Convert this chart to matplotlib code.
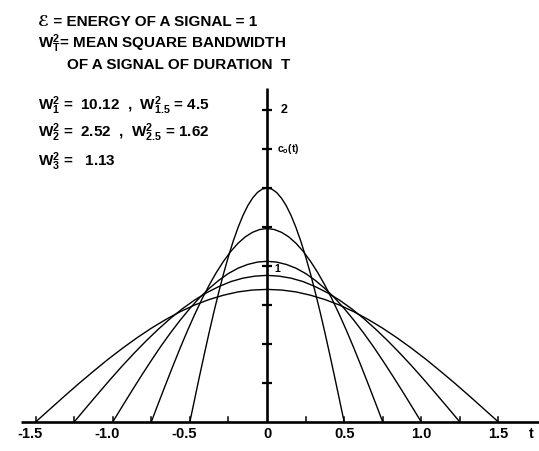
import matplotlib

matplotlib.use("Agg")

import matplotlib.pyplot as plt
import numpy as np

W_PX, H_PX, DPI = 539, 451, 100

# signal durations T and the c0(t) values, from t = 0
# out to t = T/2 in 16 equal steps (curves are symmetric about t = 0)
durations = [1.0, 1.5, 2.0, 2.5, 3.0]
curve_values = {
    1.0: [1.50, 1.493, 1.471, 1.435, 1.386, 1.323, 1.247, 1.160, 1.061,
          0.952, 0.833, 0.707, 0.574, 0.435, 0.293, 0.147, 0.0],
    1.5: [1.24, 1.234, 1.216, 1.187, 1.146, 1.094, 1.031, 0.959, 0.877,
          0.787, 0.689, 0.585, 0.475, 0.360, 0.242, 0.122, 0.0],
    2.0: [1.03, 1.025, 1.010, 0.986, 0.952, 0.908, 0.856, 0.796, 0.728,
          0.653, 0.572, 0.486, 0.394, 0.299, 0.201, 0.101, 0.0],
    2.5: [0.94, 0.935, 0.922, 0.900, 0.868, 0.829, 0.782, 0.727, 0.665,
          0.596, 0.522, 0.443, 0.360, 0.273, 0.183, 0.092, 0.0],
    3.0: [0.85, 0.846, 0.834, 0.813, 0.785, 0.750, 0.707, 0.657, 0.601,
          0.539, 0.472, 0.401, 0.325, 0.247, 0.166, 0.083, 0.0],
}

x_ticks = [-1.5, -1.25, -1.0, -0.75, -0.5, -0.25, 0.25, 0.5, 0.75, 1.0, 1.25, 1.5]
x_labels = {-1.5: "-1.5", -1.0: "-1.0", -0.5: "-0.5", 0.0: "0", 0.5: "0.5", 1.0: "1.0", 1.5: "1.5"}
y_ticks = [0.25, 0.5, 0.75, 1.0, 1.25, 1.5, 1.75, 2.0]

header_lines = [
    (38, 22, "\u2130 = ENERGY OF A SIGNAL = 1"),
    (38, 43.5, "W$_T^2$= MEAN SQUARE BANDWIDTH"),
    (67, 65, "OF A SIGNAL OF DURATION  T"),
]
bandwidth_lines = [
    (38, 106, "W$_1^2$ =  10.12  ,  W$_{1.5}^2$ = 4.5"),
    (38, 133, "W$_2^2$ =  2.52  ,  W$_{2.5}^2$ = 1.62"),
    (38, 162, "W$_3^2$ =   1.13"),
]

plt.rcParams["font.family"] = ["Liberation Sans", "DejaVu Sans"]
plt.rcParams["font.weight"] = "bold"
plt.rcParams["mathtext.fontset"] = "custom"
plt.rcParams["mathtext.rm"] = "Liberation Sans:bold"
plt.rcParams["mathtext.it"] = "Liberation Sans:bold"
plt.rcParams["mathtext.bf"] = "Liberation Sans:bold"
plt.rcParams["mathtext.default"] = "regular"

fig = plt.figure(figsize=(W_PX / DPI, H_PX / DPI), dpi=DPI)
ax = fig.add_axes([0, 0, 1, 1])
ax.set_axis_off()

# pixel geometry of the original drawing
x0_px, x_scale = 267.0, 154.3
y0_px, y_scale = 422.0, 156.0
ax.set_xlim(-x0_px / x_scale, (W_PX - x0_px) / x_scale)
ax.set_ylim((y0_px - H_PX) / y_scale, y0_px / y_scale)


def px(x, y):
    return x / W_PX, 1 - y / H_PX


# axes
ax.plot([(21 - x0_px) / x_scale, (W_PX - x0_px) / x_scale], [0, 0], color="black", lw=1.9,
        solid_capstyle="butt")
ax.plot([0, 0], [0, (y0_px - 88) / y_scale], color="black", lw=1.9, solid_capstyle="butt")

# x ticks (short upward marks)
for t in x_ticks:
    ax.plot([t, t], [0, 0.035], color="black", lw=1.1)
for t, lab in x_labels.items():
    ax.text(t - (0.035 if t < 0 else 0), -0.075, lab, ha="center", va="center", fontsize=10.5)
ax.text((531 - x0_px) / x_scale, -0.075, "t", ha="center", va="center", fontsize=10.5)

# y ticks (small crosses on the axis)
ax.plot(np.zeros(len(y_ticks)), y_ticks, ls="none", marker="_", ms=7, mew=1.6, color="black")
ax.text(0.09, 2.0, "2", ha="left", va="center", fontsize=9)
ax.text(0.065, 1.75, "c$_o$(t)", ha="left", va="center", fontsize=7.5)
ax.text(0.045, 0.98, "1", ha="left", va="center", fontsize=7.5)

# curves
for T in durations:
    vals = np.array(curve_values[T])
    t_half = np.linspace(0, T / 2, len(vals))
    t = np.concatenate([-t_half[::-1], t_half[1:]])
    c = np.concatenate([vals[::-1], vals[1:]])
    ax.plot(t, c, color="black", lw=1.0)

# annotations
for x, y, line in header_lines + bandwidth_lines:
    fig.text(*px(x, y), line, ha="left", va="center", fontsize=11)

fig.savefig("out.png", dpi=DPI, facecolor="white")
